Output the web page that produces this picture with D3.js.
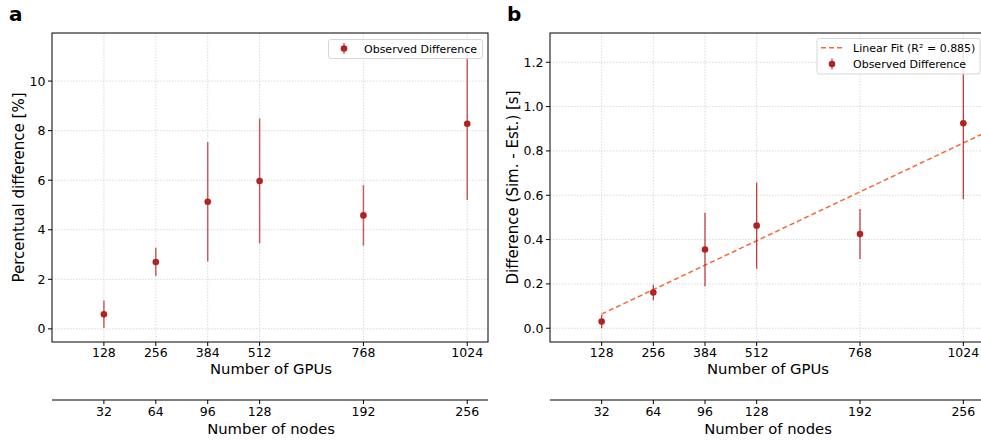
<!DOCTYPE html>
<html>
<head>
<meta charset="utf-8">
<script src="https://cdn.jsdelivr.net/npm/d3@7"></script>
<style>
  body { margin: 0; background: #fff; }
  svg { display: block; font-family: "DejaVu Sans", sans-serif; }
</style>
</head>
<body>
<div id="chart"></div>
<script>
// data
const gpus = [128, 256, 384, 512, 768, 1024];
const nodeTicks = [32, 64, 96, 128, 192, 256];
const gpuTicks = [128, 256, 384, 512, 768, 1024];

const pctDiff = [0.59, 2.70, 5.13, 5.97, 4.58, 8.28];
const pctErr = [0.55, 0.57, 2.41, 2.52, 1.22, 3.08];

const timeDiff = [0.030, 0.161, 0.355, 0.463, 0.425, 0.925];
const timeErr = [0.030, 0.035, 0.166, 0.195, 0.113, 0.343];

// linear fit line as drawn (x from 128 to the axis end)
const fitX = [128, 1075.2];
const fitY = [0.064, 0.880];

const pctTicks = [0, 2, 4, 6, 8, 10];
const timeTicks = [0, 0.2, 0.4, 0.6, 0.8, 1.0, 1.2];

const W = 981, H = 441;
const red = '#b22222';
const fitColor = '#f4693a';
const gridColor = '#cfcfcf';

const svg = d3.select('#chart').append('svg')
    .attr('width', W)
    .attr('height', H);

function drawPanel(opt) {
    const { left, right, top, bottom } = opt;
    const x = d3.scaleLinear().domain([0, 1075.2]).range([left, right]);
    const y = d3.scaleLinear().domain(opt.yDomain).range([bottom, top]);

    const clipId = 'clip-' + opt.letter;
    svg.append('clipPath').attr('id', clipId)
        .append('rect')
        .attr('x', left).attr('y', top)
        .attr('width', right - left).attr('height', bottom - top);

    // grid
    const grid = svg.append('g');
    gpuTicks.forEach(t => {
        grid.append('line')
            .attr('x1', x(t)).attr('x2', x(t))
            .attr('y1', top).attr('y2', bottom)
            .attr('stroke', gridColor).attr('stroke-width', 0.8)
            .attr('stroke-dasharray', '1.5,1.5');
    });
    opt.yTicks.forEach(t => {
        grid.append('line')
            .attr('x1', left).attr('x2', right)
            .attr('y1', y(t)).attr('y2', y(t))
            .attr('stroke', gridColor).attr('stroke-width', 0.8)
            .attr('stroke-dasharray', '1.5,1.5');
    });

    const plot = svg.append('g').attr('clip-path', `url(#${clipId})`);

    if (opt.fit) {
        plot.append('line')
            .attr('x1', x(fitX[0])).attr('y1', y(fitY[0]))
            .attr('x2', x(fitX[1])).attr('y2', y(fitY[1]))
            .attr('stroke', fitColor)
            .attr('stroke-width', 1.5)
            .attr('stroke-dasharray', '5,3');
    }

    opt.values.forEach((v, i) => {
        const e = opt.errors[i];
        plot.append('line')
            .attr('x1', x(gpus[i])).attr('x2', x(gpus[i]))
            .attr('y1', y(v - e)).attr('y2', y(v + e))
            .attr('stroke', red)
            .attr('stroke-width', opt.errWidth)
            .attr('opacity', opt.errOpacity);
        plot.append('circle')
            .attr('cx', x(gpus[i])).attr('cy', y(v))
            .attr('r', 3.3)
            .attr('fill', red);
    });

    // spines
    svg.append('rect')
        .attr('x', left).attr('y', top)
        .attr('width', right - left).attr('height', bottom - top)
        .attr('fill', 'none')
        .attr('stroke', '#000')
        .attr('stroke-width', 1);

    // y ticks
    opt.yTicks.forEach(t => {
        svg.append('line')
            .attr('x1', left - 4).attr('x2', left)
            .attr('y1', y(t)).attr('y2', y(t))
            .attr('stroke', '#000');
        svg.append('text')
            .attr('x', left - 6.5)
            .attr('y', y(t) + 4.5)
            .attr('text-anchor', 'end')
            .attr('font-size', '12.5px')
            .text(opt.yFormat(t));
    });

    // GPU axis
    gpuTicks.forEach(t => {
        svg.append('line')
            .attr('x1', x(t)).attr('x2', x(t))
            .attr('y1', bottom).attr('y2', bottom + 4)
            .attr('stroke', '#000');
        svg.append('text')
            .attr('x', x(t))
            .attr('y', 356.8)
            .attr('text-anchor', 'middle')
            .attr('font-size', '12.5px')
            .text(t);
    });
    svg.append('text')
        .attr('x', (left + Math.min(right, W + 3)) / 2 + 1)
        .attr('y', 373.5)
        .attr('text-anchor', 'middle')
        .attr('font-size', '14.8px')
        .text('Number of GPUs');

    // nodes axis
    const nodeY = 400;
    svg.append('line')
        .attr('x1', left).attr('x2', right)
        .attr('y1', nodeY).attr('y2', nodeY)
        .attr('stroke', '#000');
    nodeTicks.forEach((t, i) => {
        svg.append('line')
            .attr('x1', x(gpuTicks[i])).attr('x2', x(gpuTicks[i]))
            .attr('y1', nodeY).attr('y2', nodeY + 4)
            .attr('stroke', '#000');
        svg.append('text')
            .attr('x', x(gpuTicks[i]))
            .attr('y', 416.2)
            .attr('text-anchor', 'middle')
            .attr('font-size', '12.5px')
            .text(t);
    });
    svg.append('text')
        .attr('x', (left + Math.min(right, W + 3)) / 2 + 1)
        .attr('y', 434.3)
        .attr('text-anchor', 'middle')
        .attr('font-size', '14.8px')
        .text('Number of nodes');

    // y label
    const cy = (top + bottom) / 2;
    svg.append('text')
        .attr('transform', `translate(${opt.yLabelX},${cy}) rotate(-90)`)
        .attr('dy', '0.35em')
        .attr('text-anchor', 'middle')
        .attr('font-size', '15px')
        .text(opt.yLabel);

    // panel letter
    svg.append('text')
        .attr('x', opt.letterX)
        .attr('y', 21)
        .attr('font-size', '20px')
        .attr('font-weight', 'bold')
        .text(opt.letter);

    return { x, y };
}

drawPanel({
    left: 52, right: 488, top: 33, bottom: 342,
    yDomain: [-0.53, 11.94],
    yTicks: pctTicks,
    yFormat: d => d3.format('d')(d),
    values: pctDiff, errors: pctErr,
    errWidth: 1.5, errOpacity: 0.7,
    fit: false,
    yLabel: 'Percentual difference [%]', yLabelX: 19,
    letter: 'a', letterX: 9
});

drawPanel({
    left: 550, right: 984, top: 33, bottom: 342,
    yDomain: [-0.062, 1.332],
    yTicks: timeTicks,
    yFormat: d => d3.format('.1f')(d),
    values: timeDiff, errors: timeErr,
    errWidth: 1.3, errOpacity: 0.85,
    fit: true,
    yLabel: 'Difference (Sim. - Est.) [s]', yLabelX: 513,
    letter: 'b', letterX: 507
});

// legends
function legendMarker(g, cx, cy) {
    g.append('line')
        .attr('x1', cx).attr('x2', cx)
        .attr('y1', cy - 5.5).attr('y2', cy + 5.5)
        .attr('stroke', red).attr('stroke-width', 1.5).attr('opacity', 0.7);
    g.append('circle')
        .attr('cx', cx).attr('cy', cy).attr('r', 3.3).attr('fill', red);
}

const legA = svg.append('g');
legA.append('rect')
    .attr('x', 328.5).attr('y', 39.5).attr('width', 154).attr('height', 19)
    .attr('rx', 2.5)
    .attr('fill', '#fff').attr('fill-opacity', 0.85)
    .attr('stroke', '#d6d6d6');
legendMarker(legA, 344, 48.5);
legA.append('text')
    .attr('x', 364).attr('y', 52.5)
    .attr('font-size', '11px')
    .text('Observed Difference');

const legB = svg.append('g');
legB.append('rect')
    .attr('x', 817).attr('y', 38.5).attr('width', 163).attr('height', 35.5)
    .attr('rx', 2.5)
    .attr('fill', '#fff').attr('fill-opacity', 0.85)
    .attr('stroke', '#d6d6d6');
legB.append('line')
    .attr('x1', 821).attr('x2', 843)
    .attr('y1', 47.7).attr('y2', 47.7)
    .attr('stroke', fitColor).attr('stroke-width', 1.5)
    .attr('stroke-dasharray', '5,3');
legB.append('text')
    .attr('x', 853).attr('y', 51.7)
    .attr('font-size', '11px')
    .text('Linear Fit (R² = 0.885)');
legendMarker(legB, 832, 64);
legB.append('text')
    .attr('x', 853).attr('y', 68)
    .attr('font-size', '11px')
    .text('Observed Difference');
</script>
</body>
</html>
